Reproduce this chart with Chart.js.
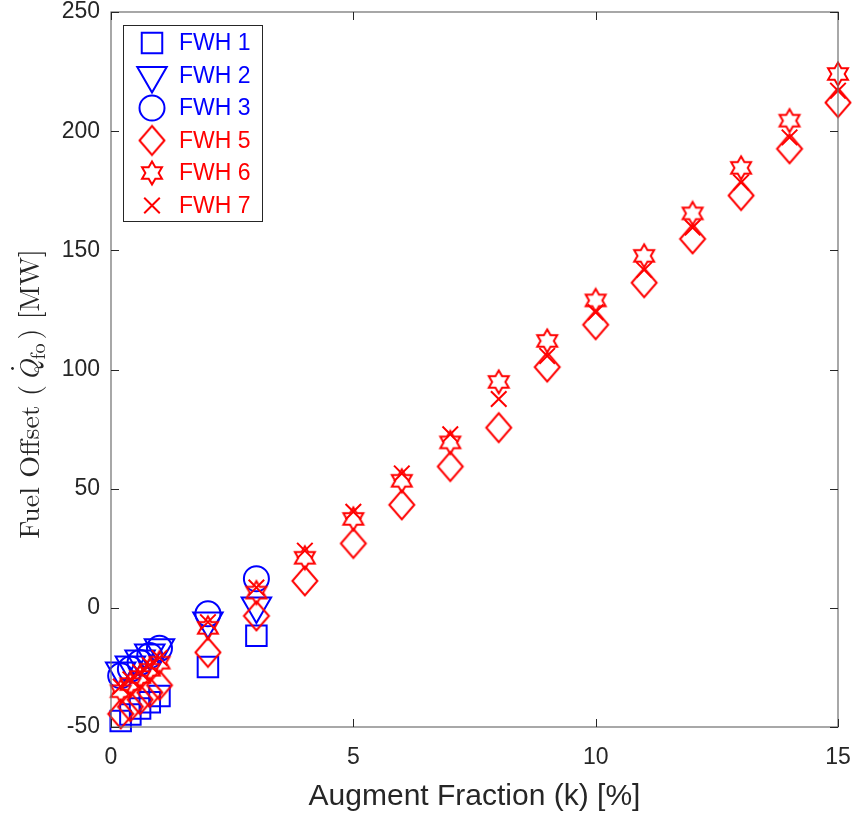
<!DOCTYPE html>
<html>
<head>
<meta charset="utf-8">
<script src="https://cdn.jsdelivr.net/npm/chart.js@4/dist/chart.umd.min.js"></script>
<style>
  html, body { margin: 0; padding: 0; background: #fff; }
  #wrap { width: 853px; height: 817px; }
</style>
</head>
<body>
<div id="wrap"><canvas id="myChart" width="853" height="817"></canvas></div>
<script>
// augment fraction k [%]
const kBlue = [0.2, 0.4, 0.6, 0.8, 1, 2, 3];
const kRed = [0.2, 0.4, 0.6, 0.8, 1, 2, 3, 4, 5, 6, 7, 8, 9, 10, 11, 12, 13, 14, 15];

// fuel offset [MW]
const fwh1 = [-47.5, -44.8, -42.2, -39.6, -37, -24.8, -11.7];
const fwh2 = [-26.5, -24, -21.5, -19, -16.8, -5.5, 0.8];
const fwh3 = [-28.5, -25.7, -22.9, -20, -17, -2.5, 12.2];
const fwh5 = [-44.5, -41.5, -38.5, -35.5, -32.5, -18.7, -3.4, 11.3, 27, 43.2, 59.3, 75.6, 101, 118.8, 136.4, 154.8, 173, 192.6, 212];
const fwh6 = [-35, -32, -29, -26, -23, -8.4, 6.4, 21, 37.3, 53.3, 69.4, 94.8, 112, 129, 147.7, 165.5, 184.6, 204.4, 224];
const fwh7 = [-33, -30, -27, -24, -21, -6, 8.5, 24, 40.3, 56.4, 72.8, 87.6, 105.7, 124, 141.8, 159.6, 178.5, 197.4, 217];

const xTicks = [0, 5, 10, 15];
const yTicks = [-50, 0, 50, 100, 150, 200, 250];

const BLUE = "#0000ff";
const RED = "#ff0000";
const TEXT = "#262626";
const SANS = "'Liberation Sans', Arial, sans-serif";

// marker images for shapes chart.js doesn't have in the matlab form
function makeMarker(color, w, h, pathFn) {
  const c = document.createElement("canvas");
  c.width = w;
  c.height = h;
  const g = c.getContext("2d");
  g.beginPath();
  pathFn(g, w / 2, h / 2);
  g.closePath();
  g.strokeStyle = color;
  g.lineWidth = 2;
  g.stroke();
  return c;
}
const hexagram = makeMarker(RED, 28, 28, (g, cx, cy) => {
  const R = 11.5, r = R / Math.sqrt(3);
  for (let i = 0; i < 12; i++) {
    const a = -Math.PI / 2 + i * Math.PI / 6;
    const rr = i % 2 === 0 ? R : r;
    const px = cx + rr * Math.cos(a), py = cy + rr * Math.sin(a);
    if (i === 0) g.moveTo(px, py); else g.lineTo(px, py);
  }
});
const diamond = makeMarker(RED, 30, 34, (g, cx, cy) => {
  g.moveTo(cx, cy - 14.5);
  g.lineTo(cx + 12.5, cy);
  g.lineTo(cx, cy + 14.5);
  g.lineTo(cx - 12.5, cy);
});

function pts(xs, ys) {
  return ys.map((y, i) => ({ x: xs[i], y: y }));
}

function series(label, xs, ys, color, style, radius, rotation, order) {
  return {
    label: label,
    data: pts(xs, ys),
    showLine: false,
    clip: false,
    pointStyle: style,
    pointRadius: radius,
    pointHoverRadius: radius,
    pointRotation: rotation,
    pointBorderWidth: 2,
    pointBorderColor: color,
    pointBackgroundColor: "rgba(0,0,0,0)",
    borderColor: color,
    backgroundColor: "rgba(0,0,0,0)",
    order: order,
  };
}

const datasets = [
  series("FWH 1", kBlue, fwh1, BLUE, "rect", 14.5, 0, 6),
  series("FWH 2", kBlue, fwh2, BLUE, "triangle", 17, 180, 5),
  series("FWH 3", kBlue, fwh3, BLUE, "circle", 12.5, 0, 4),
  series("FWH 5", kRed, fwh5, RED, diamond, 14.5, 0, 3),
  series("FWH 6", kRed, fwh6, RED, hexagram, 12, 0, 2),
  series("FWH 7", kRed, fwh7, RED, "crossRot", 11, 0, 1),
];

// box, inward ticks, legend and the y title
const matlabAxes = {
  id: "matlabAxes",
  afterDraw(chart) {
    const ctx = chart.ctx;
    const a = chart.chartArea;
    const xs = chart.scales.x, ys = chart.scales.y;
    const tl = 8;
    ctx.save();
    ctx.strokeStyle = "#6e6e6e";
    ctx.lineWidth = 1.2;
    ctx.strokeRect(a.left, a.top, a.right - a.left, a.bottom - a.top);
    ctx.strokeStyle = TEXT;
    ctx.lineWidth = 1;
    ctx.beginPath();
    xTicks.forEach((v) => {
      const px = Math.round(xs.getPixelForValue(v)) + 0.5;
      ctx.moveTo(px, a.bottom); ctx.lineTo(px, a.bottom - tl);
      ctx.moveTo(px, a.top); ctx.lineTo(px, a.top + tl);
    });
    yTicks.forEach((v) => {
      const py = Math.round(ys.getPixelForValue(v)) + 0.5;
      ctx.moveTo(a.left, py); ctx.lineTo(a.left + tl, py);
      ctx.moveTo(a.right, py); ctx.lineTo(a.right - tl, py);
    });
    ctx.stroke();

    // legend
    const lx = a.left + 12, ly = a.top + 13, lw = 139, lh = 196;
    ctx.fillStyle = "#fff";
    ctx.fillRect(lx, ly, lw, lh);
    ctx.strokeStyle = "#262626";
    ctx.lineWidth = 1;
    ctx.strokeRect(lx + 0.5, ly + 0.5, lw, lh);
    ctx.font = "23px " + SANS;
    ctx.textBaseline = "middle";
    ctx.textAlign = "left";
    chart.data.datasets.forEach((ds, i) => {
      const cy = ly + 18 + i * 32.5;
      const color = ds.pointBorderColor;
      ctx.strokeStyle = color;
      ctx.fillStyle = "rgba(0,0,0,0)";
      ctx.lineWidth = 2;
      Chart.helpers.drawPoint(ctx, {
        pointStyle: ds.pointStyle,
        radius: ds.pointRadius,
        rotation: ds.pointRotation,
        borderWidth: 2,
      }, lx + 29, cy);
      ctx.fillStyle = color;
      ctx.fillText(ds.label, lx + 56, cy + 1);
    });

    // y axis title, LaTeX style
    const cx = 30, cyT = 394;
    ctx.translate(cx, cyT);
    ctx.rotate(-Math.PI / 2);
    ctx.fillStyle = TEXT;
    ctx.textBaseline = "alphabetic";
    const big = "28px 'Latin Modern Roman', 'Liberation Serif', serif";
    const ital = "italic 28px 'Latin Modern Roman', 'Liberation Serif', serif";
    const small = "20px 'Latin Modern Roman', 'Liberation Serif', serif";
    const parts = [
      { t: "Fuel Offset (", f: big, dy: 0 },
      { t: "Q", f: ital, dy: 0, dot: true },
      { t: "fo", f: small, dy: 6 },
      { t: ") [MW]", f: big, dy: 0 },
    ];
    let total = 0;
    parts.forEach((p) => { ctx.font = p.f; p.w = ctx.measureText(p.t).width; total += p.w; });
    total += 8;
    let x = -total / 2;
    const base = 9;
    parts.forEach((p, i) => {
      ctx.font = p.f;
      ctx.fillText(p.t, x, base + p.dy);
      if (p.dot) {
        ctx.font = big;
        ctx.textAlign = "center";
        ctx.fillText("\u02D9", x + p.w / 2 + 2, base - 10);
        ctx.textAlign = "left";
      }
      x += p.w + (i === 0 ? 4 : i === 2 ? 4 : 0);
    });
    ctx.restore();
  },
};

const ctx = document.getElementById("myChart").getContext("2d");
const myChart = new Chart(ctx, {
  type: "scatter",
  data: { datasets: datasets },
  options: {
    responsive: false,
    animation: false,
    layout: { autoPadding: false, padding: { left: 0, right: 15, top: 12, bottom: 0 } },
    plugins: {
      legend: { display: false },
      tooltip: { enabled: false },
    },
    scales: {
      x: {
        type: "linear",
        min: 0,
        max: 15,
        afterBuildTicks: (s) => { s.ticks = xTicks.map((v) => ({ value: v })); },
        afterFit: (s) => { s.height = 90; s.paddingLeft = 0; s.paddingRight = 0; },
        grid: { display: false, drawTicks: false },
        border: { display: false },
        ticks: {
          color: TEXT,
          padding: 17,
          font: { family: SANS, size: 23 },
        },
        title: {
          display: true,
          text: "Augment Fraction (k) [%]",
          color: TEXT,
          padding: { top: 4, bottom: 2 },
          font: { family: SANS, size: 30 },
        },
      },
      y: {
        type: "linear",
        min: -50,
        max: 250,
        afterBuildTicks: (s) => { s.ticks = yTicks.map((v) => ({ value: v })); },
        afterFit: (s) => { s.width = 111; s.paddingTop = 0; s.paddingBottom = 0; },
        grid: { display: false, drawTicks: false },
        border: { display: false },
        ticks: {
          color: TEXT,
          padding: 11,
          font: { family: SANS, size: 23 },
        },
      },
    },
  },
  plugins: [matlabAxes],
});
</script>
</body>
</html>
